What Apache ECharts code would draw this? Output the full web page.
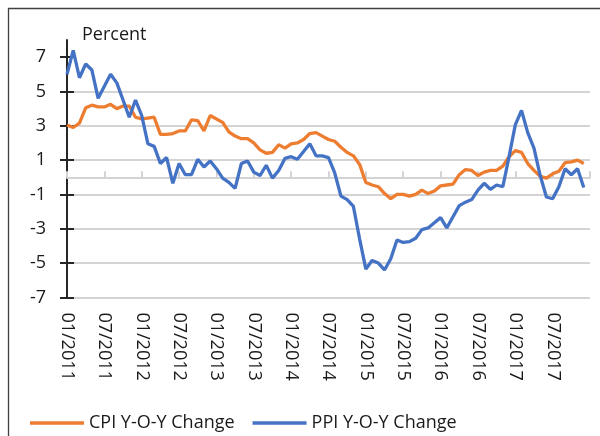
<!DOCTYPE html>
<html>
<head>
<meta charset="utf-8">
<script src="https://cdn.jsdelivr.net/npm/echarts@6/dist/echarts.min.js"></script>
<style>
html, body { margin: 0; padding: 0; background: #fff; }
#chart { width: 600px; height: 436px; }
</style>
</head>
<body>
<div id="chart"></div>
<script>
// monthly values, 01/2011 - 12/2017
const cpi = [
  3.05, 2.9, 3.15, 4.05, 4.2, 4.1, 4.1, 4.25, 4.0, 4.15, 4.15, 3.5,
  3.4, 3.45, 3.5, 2.5, 2.5, 2.55, 2.7, 2.7, 3.35, 3.3, 2.7, 3.6,
  3.4, 3.2, 2.65, 2.4, 2.25, 2.25, 2.0, 1.6, 1.4, 1.45, 1.9, 1.7,
  1.95, 2.0, 2.2, 2.55, 2.6, 2.4, 2.2, 2.1, 1.75, 1.45, 1.25, 0.75,
  -0.3, -0.45, -0.55, -0.95, -1.25, -1.0, -1.0, -1.1, -1.0, -0.75, -0.95, -0.8,
  -0.5, -0.45, -0.4, 0.15, 0.45, 0.4, 0.1, 0.3, 0.4, 0.4, 0.65, 1.2,
  1.55, 1.45, 0.8, 0.4, 0.05, -0.05, 0.2, 0.35, 0.85, 0.9, 1.0, 0.8
];
const ppi = [
  6.0, 7.4, 5.8, 6.6, 6.25, 4.6, 5.3, 6.0, 5.5, 4.5, 3.5, 4.5,
  3.6, 1.95, 1.8, 0.8, 1.15, -0.35, 0.8, 0.15, 0.15, 1.05, 0.6, 0.95,
  0.5, -0.05, -0.3, -0.65, 0.8, 0.95, 0.3, 0.1, 0.7, -0.05, 0.4, 1.1,
  1.2, 1.05, 1.5, 1.95, 1.25, 1.25, 1.15, 0.25, -1.1, -1.3, -1.7, -3.6,
  -5.35, -4.85, -5.0, -5.4, -4.75, -3.65, -3.8, -3.75, -3.55, -3.05, -2.95, -2.65,
  -2.35, -2.95, -2.3, -1.65, -1.45, -1.3, -0.75, -0.35, -0.7, -0.45, -0.55, 1.2,
  3.05, 3.9, 2.6, 1.7, 0.1, -1.15, -1.25, -0.55, 0.5, 0.15, 0.5, -0.6
];
const yTicks = [-7, -5, -3, -1, 1, 3, 5, 7];

// axis runs one month past the data (to 01/2018)
const months = [];
for (let i = 0; i < 85; i++) {
  const m = (i % 12) + 1;
  months.push((m < 10 ? '0' + m : '' + m) + '/' + (2011 + Math.floor(i / 12)));
}

const FONT = '"Open Sans", sans-serif';
const GRID_COLOR = '#d4d4d4';
const AXIS_COLOR = '#262626';

const chart = echarts.init(document.getElementById('chart'));
chart.setOption({
  animation: false,
  grid: { left: 67, right: 10, top: 40, bottom: 138.6, containLabel: false, outerBoundsMode: 'none' },
  graphic: [
    {
      type: 'rect',
      shape: { x: 8.5, y: 8.5, width: 600, height: 440 },
      style: { fill: 'none', stroke: '#404040', lineWidth: 1.3 }
    },
    {
      type: 'text',
      x: 82, y: 35,
      style: { text: 'Percent', font: '18px ' + FONT, fill: '#1a1a1a', verticalAlign: 'middle' }
    }
  ],
  legend: {
    data: ['CPI Y-O-Y Change', 'PPI Y-O-Y Change'],
    icon: 'rect',
    left: 25, top: 409,
    itemWidth: 54, itemHeight: 3.3, itemGap: 18,
    textStyle: { fontSize: 18, color: '#1a1a1a', fontFamily: FONT }
  },
  xAxis: [
    {
      type: 'category',
      data: months,
      boundaryGap: false,
      position: 'bottom',
      axisLine: { show: false, onZero: false },
      axisTick: { show: false },
      splitLine: { show: false },
      axisLabel: {
        interval: 5, rotate: -90, margin: 15,
        fontSize: 18, color: '#1a1a1a', fontFamily: FONT,
        formatter: v => (v === '01/2018' ? '' : v)
      }
    },
    {
      type: 'category',
      data: months,
      boundaryGap: false,
      position: 'bottom',
      axisLine: { show: true, onZero: true, lineStyle: { color: GRID_COLOR, width: 2 } },
      axisTick: { show: true, interval: 5, inside: true, length: 6, lineStyle: { color: GRID_COLOR, width: 2 } },
      axisLabel: { show: false },
      splitLine: { show: false }
    }
  ],
  yAxis: [
    {
      type: 'value',
      min: -7, max: 8, interval: 2,
      position: 'left',
      axisLine: { show: true, onZero: false, lineStyle: { color: AXIS_COLOR, width: 2 } },
      axisTick: { show: true, length: 7, customValues: yTicks, lineStyle: { color: AXIS_COLOR, width: 2 } },
      axisLabel: { customValues: yTicks, margin: 21, fontSize: 18, color: '#1a1a1a', fontFamily: FONT },
      splitLine: { show: true, showMaxLine: false, lineStyle: { color: GRID_COLOR, width: 2 } }
    },
    {
      type: 'value',
      min: -7, max: 8, interval: 2,
      position: 'left',
      axisLine: { show: false, onZero: false },
      axisTick: { show: true, inside: true, length: 7, customValues: yTicks, lineStyle: { color: AXIS_COLOR, width: 2 } },
      axisLabel: { show: false },
      splitLine: { show: false }
    }
  ],
  series: [
    {
      name: 'CPI Y-O-Y Change',
      type: 'line',
      data: cpi,
      symbol: 'none',
      color: '#ED7D31',
      lineStyle: { width: 3.3, color: '#ED7D31' }
    },
    {
      name: 'PPI Y-O-Y Change',
      type: 'line',
      data: ppi,
      symbol: 'none',
      color: '#4472C4',
      lineStyle: { width: 3.3, color: '#4472C4' }
    }
  ]
});
</script>
</body>
</html>
